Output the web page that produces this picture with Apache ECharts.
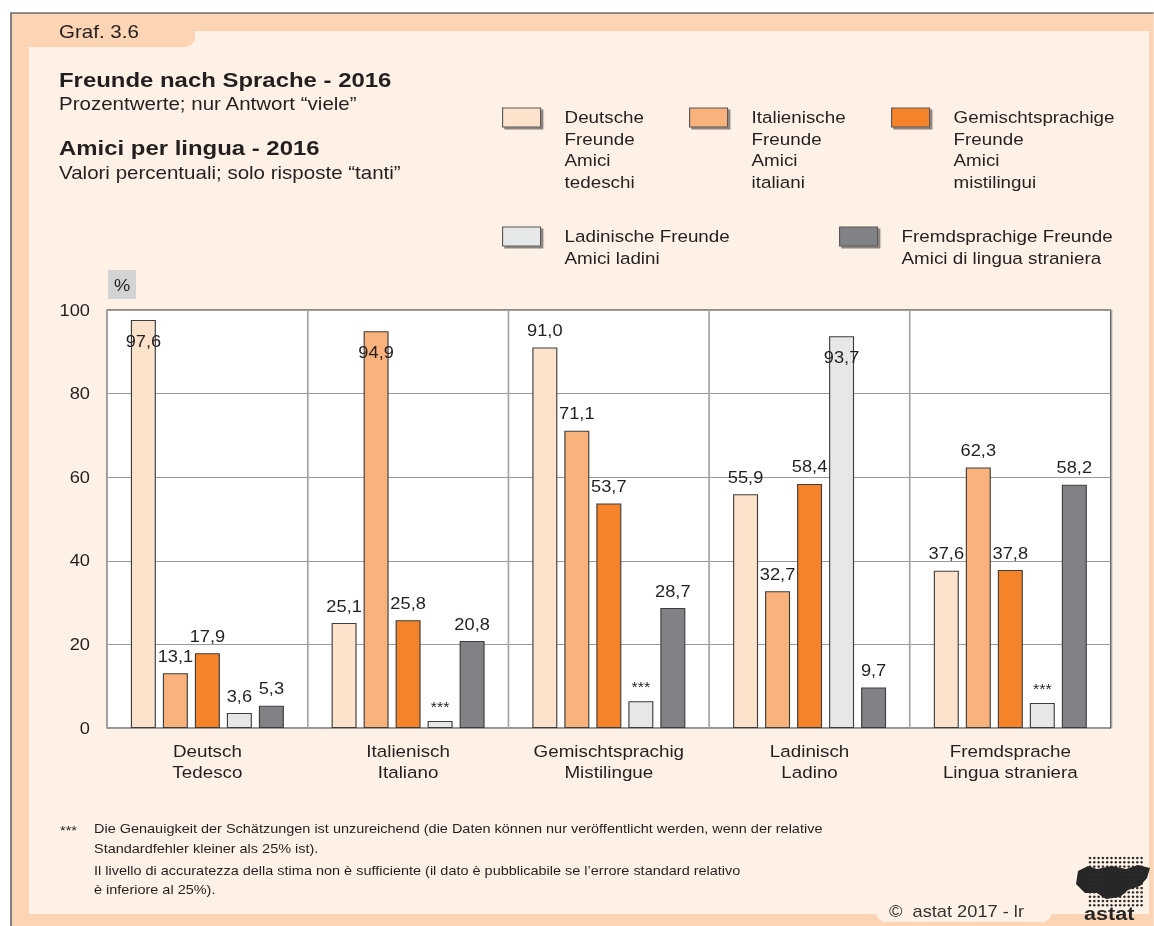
<!DOCTYPE html>
<html>
<head>
<meta charset="utf-8">
<script src="https://cdn.jsdelivr.net/npm/echarts@6/dist/echarts.min.js"></script>
<style>
    html, body { margin: 0; padding: 0; background: #fff; overflow: hidden; }
    #chart { height: 926px; transform-origin: 0 0; }
</style>
</head>
<body>
<div id="chart"></div>
<script>
    // the reference is printed a bit wider than it is tall, so the whole chart is stretched
    const S = 1.14;
    const W = 1154 / S;
    const px = v => v / S;

    const categories = ['Deutsch\nTedesco', 'Italienisch\nItaliano', 'Gemischtsprachig\nMistilingue', 'Ladinisch\nLadino', 'Fremdsprache\nLingua straniera'];
    const seriesNames = ['Deutsche Freunde', 'Italienische Freunde', 'Gemischtsprachige Freunde', 'Ladinische Freunde', 'Fremdsprachige Freunde'];
    const legendLines = [
        ['Deutsche', 'Freunde', 'Amici', 'tedeschi'],
        ['Italienische', 'Freunde', 'Amici', 'italiani'],
        ['Gemischtsprachige', 'Freunde', 'Amici', 'mistilingui'],
        ['Ladinische Freunde', 'Amici ladini'],
        ['Fremdsprachige Freunde', 'Amici di lingua straniera']
    ];
    const colors = ['#fde3cb', '#f9b27b', '#f5832a', '#e6e7e8', '#808285'];

    const deutscheFreunde = [97.6, 25.1, 91.0, 55.9, 37.6];
    const italienischeFreunde = [13.1, 94.9, 71.1, 32.7, 62.3];
    const gemischteFreunde = [17.9, 25.8, 53.7, 58.4, 37.8];
    const ladinischeFreunde = [3.6, 1.7, 6.4, 93.7, 6.0];
    const fremdeFreunde = [5.3, 20.8, 28.7, 9.7, 58.2];
    const allValues = [deutscheFreunde, italienischeFreunde, gemischteFreunde, ladinischeFreunde, fremdeFreunde];

    // [series, category]
    const unsicher = [[3, 1], [3, 2], [3, 4]];
    const labelInnen = [[0, 0], [1, 1], [3, 3]];

    const yMin = 0, yMax = 100, yStep = 20;

    const textColor = '#231f20';
    const font = "'Liberation Sans', Arial, sans-serif";
    const peach = '#fdd5b5';
    const cream = '#fff1e5';

    let dom = document.getElementById('chart');
    dom.style.width = W + 'px';
    dom.style.transform = 'scaleX(' + S + ')';
    let chart = echarts.init(dom, null, {renderer: 'svg'});

    let has = (list, s, c) => list.some(p => p[0] === s && p[1] === c);

    let seriesArr = allValues.map((vals, s) => {
        let data = vals.map((v, c) => {
            let item = {value: v};
            if (has(unsicher, s, c)) {
                item.label = {formatter: '***', fontSize: 14, distance: 7};
            } else if (has(labelInnen, s, c)) {
                item.label = {position: 'insideTop', distance: 13};
            }
            return item;
        });
        return {
            name: seriesNames[s],
            type: 'bar',
            barWidth: px(25),
            barGap: '28%',
            itemStyle: {color: colors[s], borderColor: '#3d3d3d', borderWidth: 1},
            label: {
                show: true,
                position: 'top',
                distance: 9,
                color: textColor,
                fontFamily: font,
                fontSize: 16,
                formatter: p => p.value.toFixed(1).replace('.', ',')
            },
            data: data
        };
    });

    // legend text is centred on the swatch, so blank lines above push the first line level with it
    const lh = 21.5;
    const legendPos = [[502, 108], [689, 108], [891, 108], [502, 227], [839, 227]];
    let legends = seriesNames.map((n, i) => {
        let k = legendLines[i].length;
        return {
            data: [n],
            left: px(legendPos[i][0]),
            top: legendPos[i][1] + 9.5 - (2 * k - 1) * lh / 2,
            padding: 0,
            icon: 'rect',
            itemWidth: px(38),
            itemHeight: 19,
            selectedMode: false,
            formatter: () => '\n'.repeat(k - 1) + legendLines[i].join('\n'),
            itemStyle: {
                borderColor: '#58595b', borderWidth: 1,
                shadowColor: 'rgba(0,0,0,0.45)', shadowOffsetX: 2, shadowOffsetY: 2, shadowBlur: 1
            },
            textStyle: {
                color: textColor, fontFamily: font, fontSize: 16.5, lineHeight: lh,
                padding: [0, 0, 0, px(62) - px(38) - 5]
            }
        };
    });

    let txt = (x, y, text, size, extra) => ({
        type: 'text', x: px(x), y: y,
        style: Object.assign({text: text, fill: textColor, font: size + 'px ' + font, verticalAlign: 'middle'}, extra || {})
    });
    let bold = (x, y, text, size, extra) => txt(x, y, text, size, Object.assign({font: 'bold ' + size + 'px ' + font}, extra || {}));

    let logoDots = [];
    for (let r = 0; r < 12; r++) {
        for (let c = 0; c < 13; c++) {
            logoDots.push({type: 'circle', shape: {cx: px(1090 + c * 4.3), cy: 858 + r * 4.3, r: 1.2}, style: {fill: '#2b2b2b'}});
        }
    }

    let option = {
        animation: false,
        textStyle: {fontFamily: font},
        legend: legends,
        grid: {
            left: px(107), right: W - px(1111), top: 310, bottom: 926 - 728,
            show: true, backgroundColor: '#fff', borderColor: '#2b2b2b', borderWidth: 1
        },
        xAxis: {
            type: 'category',
            data: categories,
            axisLine: {show: false},
            axisTick: {show: false},
            splitLine: {show: true, interval: 0, lineStyle: {color: '#a3a5a8', width: 1.5}},
            axisLabel: {color: textColor, fontFamily: font, fontSize: 16.5, lineHeight: 21, margin: 13, interval: 0}
        },
        yAxis: {
            type: 'value',
            min: yMin, max: yMax, interval: yStep,
            axisLine: {show: false},
            axisTick: {show: false},
            splitLine: {lineStyle: {color: '#9a9a9a', width: 1}},
            axisLabel: {color: textColor, fontFamily: font, fontSize: 16, margin: px(17)}
        },
        graphic: [
            {type: 'rect', z: -20, shape: {x: px(11), y: 13, width: W, height: 926}, style: {fill: peach, stroke: '#6d6e71', lineWidth: 1.5}},
            {type: 'rect', z: -19, shape: {x: px(29), y: 31, width: px(1149 - 29), height: 914 - 31}, style: {fill: cream}},
            {type: 'rect', z: -18, shape: {x: px(29), y: 30, width: px(195 - 29), height: 17, r: [0, 0, 9, 0]}, style: {fill: peach}},
            {type: 'rect', z: -18, shape: {x: px(877), y: 893, width: px(174), height: 29, r: 8}, style: {fill: cream}},
            {type: 'rect', z: -18, shape: {x: px(108), y: 270, width: px(28), height: 29}, style: {fill: '#d1d3d4'}},
            txt(122, 285, '%', 16, {align: 'center'}),
            txt(59, 32, 'Graf. 3.6', 18),
            bold(59, 80, 'Freunde nach Sprache - 2016', 21),
            txt(59, 104, 'Prozentwerte; nur Antwort “viele”', 18),
            bold(59, 148, 'Amici per lingua - 2016', 21),
            txt(59, 173, 'Valori percentuali; solo risposte “tanti”', 18),
            txt(60, 831, '***', 12.7),
            txt(94, 829, 'Die Genauigkeit der Schätzungen ist unzureichend (die Daten können nur veröffentlicht werden, wenn der relative', 12.7),
            txt(94, 849, 'Standardfehler kleiner als 25% ist).', 12.7),
            txt(94, 871, 'Il livello di accuratezza della stima non è sufficiente (il dato è pubblicabile se l’errore standard relativo', 12.7),
            txt(94, 890, 'è inferiore al 25%).', 12.7),
            txt(889, 911, '©  astat 2017 - lr', 16, {fill: '#333'}),
            {
                type: 'group',
                children: [
                    {type: 'polygon', shape: {points: [
                        [px(1078), 871], [px(1088), 866], [px(1097), 869], [px(1112), 866], [px(1126), 869], [px(1138), 865],
                        [px(1150), 868], [px(1147), 878], [px(1140), 886], [px(1128), 890], [px(1120), 897], [px(1106), 899],
                        [px(1097), 893], [px(1085), 893], [px(1076), 884]
                    ]}, style: {fill: '#262626'}},
                    ...logoDots,
                    bold(1084, 913, 'astat', 19, {fill: '#262626'})
                ]
            }
        ],
        series: seriesArr
    };

    chart.setOption(option);
</script>
</body>
</html>
